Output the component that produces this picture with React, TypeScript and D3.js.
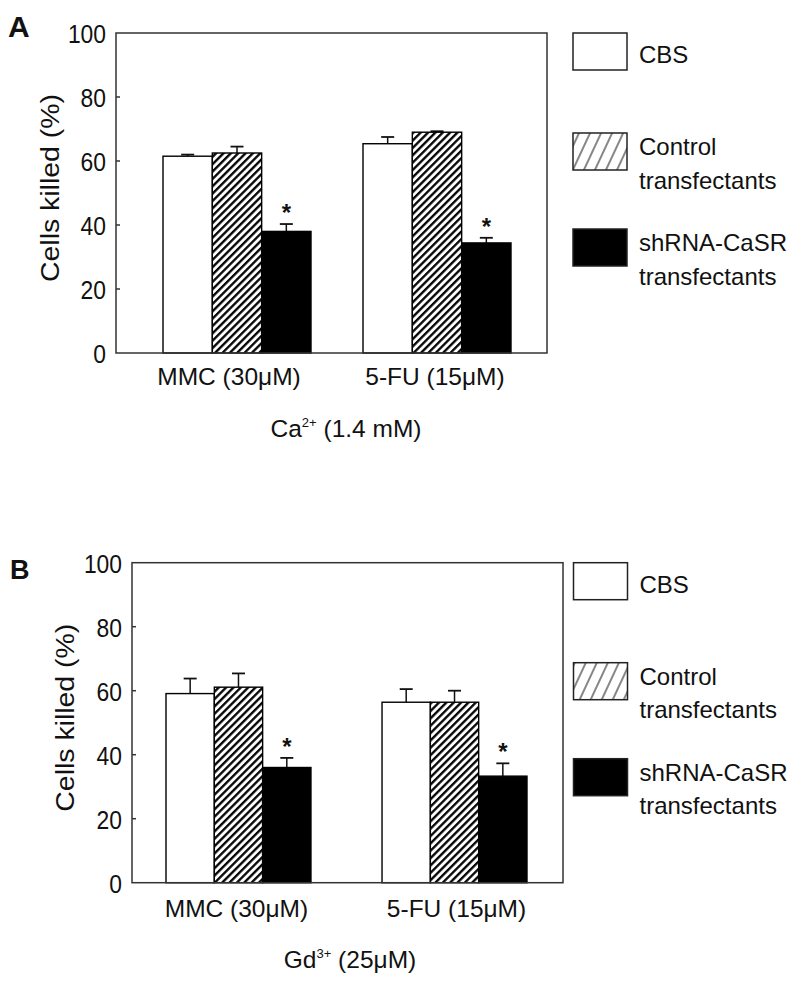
import React from "react";
import * as d3 from "d3";

const groups = ["MMC (30μM)", "5-FU (15μM)"];
const series = ["CBS", "Control transfectants", "shRNA-CaSR transfectants"];
const seriesKeys = ["cbs", "ctrl", "sh"];
const yTicks = [0, 20, 40, 60, 80, 100];

// Panel A (Ca2+ 1.4 mM)
const cbsA = [61.5, 65.4];
const ctrlA = [62.5, 69];
const shA = [38, 34.4];
const cbsErrA = [0.5, 2.1];
const ctrlErrA = [2, 0.3];
const shErrA = [2.3, 1.6];

// Panel B (Gd3+ 25 µM)
const cbsB = [59.1, 56.4];
const ctrlB = [61.1, 56.4];
const shB = [36, 33.3];
const cbsErrB = [4.7, 4.1];
const ctrlErrB = [4.3, 3.6];
const shErrB = [3, 4];

const significant = [false, false, true];

const FONT = "Arial, 'Liberation Sans', Helvetica, sans-serif";

type PanelCfg = {
  letter: string;
  letterSize: number;
  letterX: number;
  letterY: number;
  left: number;
  top: number;
  width: number;
  height: number;
  groupRange: [number, number];
  padInner: number;
  labelDx: number[];
  labelY: number;
  titleX: number;
  titleY: number;
  titleBase: string;
  titleSup: string;
  titleRest: string;
  yTitleX: number;
  values: number[][];
  errors: number[][];
  legendX: number;
};

function Panel({ cfg }: { cfg: PanelCfg }) {
  const y = d3.scaleLinear().domain([0, 100]).range([cfg.top + cfg.height, cfg.top]);
  const x0 = d3.scaleBand<string>().domain(groups).range(cfg.groupRange).paddingInner(cfg.padInner).paddingOuter(0);
  const x1 = d3.scaleBand<string>().domain(seriesKeys).range([0, x0.bandwidth()]).padding(0);
  const bottom = cfg.top + cfg.height;
  const fills = ["#fff", "url(#hatchBar)", "#000"];
  const legendFills = ["#fff", "url(#hatchLegend)", "#000"];
  const legendOffsets = [0, 100, 196];
  const legendTextLines = [["CBS"], ["Control", "transfectants"], ["shRNA-CaSR", "transfectants"]];
  const yTitleCenter = cfg.top + cfg.height / 2 - 5;

  return (
    <g>
      <text x={cfg.letterX} y={cfg.letterY} fontFamily={FONT} fontWeight="bold" fontSize={cfg.letterSize} fill="#111">
        {cfg.letter}
      </text>
      {/* bars */}
      {groups.map((g, gi) =>
        seriesKeys.map((s, si) => {
          const v = cfg.values[si][gi];
          const e = cfg.errors[si][gi];
          const bx = (x0(g) as number) + (x1(s) as number);
          const bw = x1.bandwidth();
          const cx = bx + bw / 2;
          const top = y(v);
          const errTop = y(v + e);
          return (
            <g key={g + s}>
              <line x1={cx} x2={cx} y1={top} y2={errTop} stroke="#111" strokeWidth={1.5} />
              <line x1={cx - 6.5} x2={cx + 6.5} y1={errTop} y2={errTop} stroke="#111" strokeWidth={1.8} />
              <rect x={bx} y={top} width={bw} height={bottom - top} fill={fills[si]} stroke="#000" strokeWidth={1.4} />
              {significant[si] && (
                <text x={cx} y={errTop - 3} textAnchor="middle" fontFamily={FONT} fontWeight="bold" fontSize={24} fill="#111">
                  *
                </text>
              )}
            </g>
          );
        })
      )}
      {/* frame */}
      <rect x={cfg.left} y={cfg.top} width={cfg.width} height={cfg.height} fill="none" stroke="#333" strokeWidth={1.5} />
      {/* y ticks */}
      {yTicks.map((t) => (
        <g key={t}>
          {t > 0 && t < 100 && (
            <line x1={cfg.left} x2={cfg.left + 4} y1={y(t)} y2={y(t)} stroke="#333" strokeWidth={1.5} />
          )}
          <text
            x={cfg.left - 10}
            y={y(t) + 10}
            textAnchor="end"
            fontFamily={FONT}
            fontSize={25.5}
            fill="#111"
            textLength={String(t).length * 12.7}
            lengthAdjust="spacingAndGlyphs"
          >
            {t}
          </text>
        </g>
      ))}
      {/* y title */}
      <text
        transform={`translate(${cfg.yTitleX},${yTitleCenter}) rotate(-90)`}
        textAnchor="middle"
        fontFamily={FONT}
        fontSize={25}
        fill="#111"
        textLength={188}
        lengthAdjust="spacingAndGlyphs"
        dy={9}
      >
        Cells killed (%)
      </text>
      {/* category labels */}
      {groups.map((g, gi) => (
        <text
          key={g}
          x={(x0(g) as number) + x0.bandwidth() / 2 + cfg.labelDx[gi]}
          y={cfg.labelY}
          textAnchor="middle"
          fontFamily={FONT}
          fontSize={24.5}
          fill="#111"
        >
          {g}
        </text>
      ))}
      {/* x title */}
      <text x={cfg.titleX} y={cfg.titleY} textAnchor="middle" fontFamily={FONT} fontSize={24.5} fill="#111">
        {cfg.titleBase}
        <tspan fontSize={13} dy={-10}>
          {cfg.titleSup}
        </tspan>
        <tspan dy={10}>{cfg.titleRest}</tspan>
      </text>
      {/* legend */}
      {series.map((s, si) => {
        const by = cfg.top + legendOffsets[si];
        return (
          <g key={s}>
            <rect x={cfg.legendX} y={by} width={54} height={37} fill={legendFills[si]} stroke="#222" strokeWidth={1.5} />
            {legendTextLines[si].map((line, li) => (
              <text
                key={line}
                x={cfg.legendX + 66}
                y={by + (si === 0 ? 30 : 22) + li * 33.5}
                fontFamily={FONT}
                fontSize={24}
                fill="#111"
              >
                {line}
              </text>
            ))}
          </g>
        );
      })}
    </g>
  );
}

export default function App() {
  const panelA: PanelCfg = {
    letter: "A",
    letterSize: 30,
    letterX: 8,
    letterY: 37,
    left: 116,
    top: 33,
    width: 431,
    height: 320,
    groupRange: [163, 511],
    padInner: 0.26,
    labelDx: [-8, -2],
    labelY: 385,
    titleX: 346,
    titleY: 437,
    titleBase: "Ca",
    titleSup: "2+",
    titleRest: " (1.4 mM)",
    yTitleX: 50,
    values: [cbsA, ctrlA, shA],
    errors: [cbsErrA, ctrlErrA, shErrA],
    legendX: 573,
  };
  const panelB: PanelCfg = {
    letter: "B",
    letterSize: 27,
    letterX: 10,
    letterY: 579,
    left: 132,
    top: 562.7,
    width: 431,
    height: 320,
    groupRange: [166, 527],
    padInner: 0.329,
    labelDx: [-2, 2],
    labelY: 917,
    titleX: 350,
    titleY: 968,
    titleBase: "Gd",
    titleSup: "3+",
    titleRest: " (25μM)",
    yTitleX: 65,
    values: [cbsB, ctrlB, shB],
    errors: [cbsErrB, ctrlErrB, shErrB],
    legendX: 573.5,
  };
  return (
    <svg width={800} height={987} style={{ position: "absolute", left: 0, top: 0, background: "#fff" }}>
      <defs>
        <pattern id="hatchBar" patternUnits="userSpaceOnUse" width={5.2} height={10} patternTransform="rotate(45)">
          <rect width={5.2} height={10} fill="#fff" />
          <line x1={1.2} x2={1.2} y1={0} y2={10} stroke="#000" strokeWidth={2.3} />
        </pattern>
        <pattern id="hatchLegend" patternUnits="userSpaceOnUse" width={10} height={10} patternTransform="rotate(25)">
          <rect width={10} height={10} fill="#fff" />
          <line x1={1} x2={1} y1={0} y2={10} stroke="#222" strokeWidth={1.1} />
        </pattern>
      </defs>
      <rect width={800} height={987} fill="#fff" />
      <Panel cfg={panelA} />
      <Panel cfg={panelB} />
    </svg>
  );
}
